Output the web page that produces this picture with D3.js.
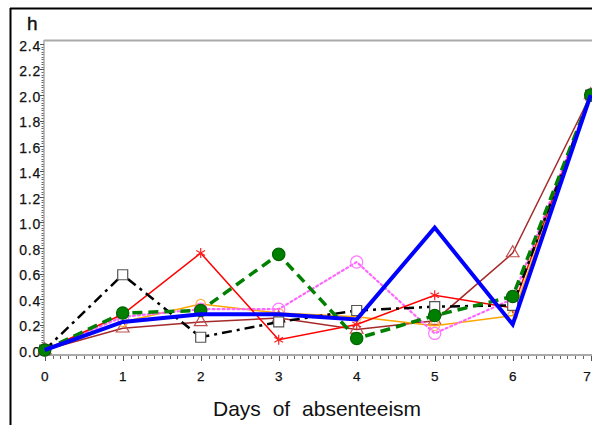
<!DOCTYPE html>
<html><head><meta charset="utf-8">
<script src="https://cdn.jsdelivr.net/npm/d3@7"></script>
<style>
html,body{margin:0;padding:0;background:#fff;}
svg{display:block;font-family:"Liberation Sans",Arial,Helvetica,sans-serif;}
</style></head>
<body><svg id="c" width="592" height="425"></svg>
<script>
const days = [0, 1, 2, 3, 4, 5, 6, 7];
const yTicks = [0.0, 0.2, 0.4, 0.6, 0.8, 1.0, 1.2, 1.4, 1.6, 1.8, 2.0, 2.2, 2.4];
const xTicks = [0, 1, 2, 3, 4, 5, 6, 7];
const seriesNames = ["brown", "orange", "magenta", "red", "black", "green", "blue"];
const brownValues   = [0, 0.17, 0.22, 0.25, 0.16, 0.23, 0.76, 2.0];
const orangeValues  = [0, 0.22, 0.36, 0.29, 0.26, 0.19, 0.27, 2.0];
const magentaValues = [0, 0.26, 0.32, 0.32, 0.69, 0.13, 0.40, 2.0];
const redValues     = [0, 0.28, 0.76, 0.08, 0.20, 0.43, 0.33, 2.0];
const blackValues   = [0, 0.59, 0.10, 0.22, 0.31, 0.34, 0.35, 2.0];
const greenValues   = [0, 0.29, 0.31, 0.75, 0.09, 0.27, 0.42, 2.0];
const blueValues    = [0, 0.22, 0.28, 0.28, 0.24, 0.96, 0.20, 2.0];
const yLabel = "h";
const xLabel = "Days of absenteeism";

const styles = {
  brown:   {values: brownValues,   color: "#a52a2a", width: 1.5, dash: null,       sym: d3.symbolTriangle, size: 70,  fill: "none", mstroke: "#c0504d"},
  orange:  {values: orangeValues,  color: "#ffa500", width: 1.5, dash: null,       sym: d3.symbolCircle,   size: 70,  fill: "none", mstroke: "#ffb347"},
  magenta: {values: magentaValues, color: "#ff66ff", width: 2.2, dash: "2,3",      sym: d3.symbolCircle,   size: 115, fill: "none", mstroke: "#ff77ff"},
  red:     {values: redValues,     color: "#ff0000", width: 1.5, dash: null,       sym: d3.symbolAsterisk, size: 70,  fill: "none", mstroke: "#ff2020"},
  black:   {values: blackValues,   color: "#000000", width: 2.5, dash: "10,5,3,5", sym: d3.symbolSquare,   size: 100, fill: "#fff", mstroke: "#555"},
  green:   {values: greenValues,   color: "#008000", width: 3.5, dash: "10,6",     sym: d3.symbolCircle,   size: 120, fill: "#008000", mstroke: "#006400"},
  blue:    {values: blueValues,    color: "#0000ff", width: 4,   dash: null,       sym: null,              size: 0,   fill: "none", mstroke: "none"}
};

const svg = d3.select("#c");
const x = d3.scaleLinear().domain([0, 7]).range([44.7, 590.7]);
const y = d3.scaleLinear().domain([0, 2.4]).range([350, 44]);

// outer black frame
svg.append("line").attr("x1", 10).attr("x2", 592).attr("y1", 8.5).attr("y2", 8.5).attr("stroke", "#000").attr("stroke-width", 2);
svg.append("line").attr("x1", 10.5).attr("x2", 10.5).attr("y1", 8).attr("y2", 425).attr("stroke", "#000").attr("stroke-width", 2);

// top frame line of plot
svg.append("line").attr("x1", 44).attr("x2", 592).attr("y1", 40.5).attr("y2", 40.5).attr("stroke", "#aaa").attr("stroke-width", 2);

// y axis
const yAxisX = 44;
svg.append("line").attr("x1", yAxisX).attr("x2", yAxisX).attr("y1", 40).attr("y2", 356).attr("stroke", "#aaa").attr("stroke-width", 1.5);
const yMinor = d3.range(0, 121).map(i => i * 0.02);
svg.append("g").selectAll("line").data(yMinor).join("line")
  .attr("x1", yAxisX - 2.5).attr("x2", yAxisX - 0.5)
  .attr("y1", d => Math.round(y(d)) + 0.5).attr("y2", d => Math.round(y(d)) + 0.5)
  .attr("stroke", "#666").attr("stroke-width", 1);
svg.append("g").selectAll("line").data(yTicks).join("line")
  .attr("x1", yAxisX - 4).attr("x2", yAxisX)
  .attr("y1", d => Math.round(y(d)) + 0.5).attr("y2", d => Math.round(y(d)) + 0.5)
  .attr("stroke", "#555").attr("stroke-width", 1);
svg.append("g").selectAll("text").data(yTicks).join("text")
  .attr("x", 41).attr("y", d => y(d) + 6.5)
  .attr("text-anchor", "end").attr("font-size", 14).attr("letter-spacing", 0.8).attr("fill", "#111")
  .attr("stroke", "#111").attr("stroke-width", 0.25)
  .text(d => d.toFixed(1));

// x axis
const xAxisY = 355;
svg.append("line").attr("x1", 44).attr("x2", 592).attr("y1", xAxisY).attr("y2", xAxisY).attr("stroke", "#aaa").attr("stroke-width", 2);
const xMinor = d3.range(0, 71).map(i => i * 0.1);
svg.append("g").selectAll("line").data(xMinor).join("line")
  .attr("x1", d => Math.round(x(d)) + 0.5).attr("x2", d => Math.round(x(d)) + 0.5)
  .attr("y1", xAxisY + 1).attr("y2", xAxisY + 4)
  .attr("stroke", "#666").attr("stroke-width", 1);
svg.append("g").selectAll("line").data(xTicks).join("line")
  .attr("x1", d => Math.round(x(d)) + 0.5).attr("x2", d => Math.round(x(d)) + 0.5)
  .attr("y1", xAxisY + 1).attr("y2", xAxisY + 6)
  .attr("stroke", "#555").attr("stroke-width", 1);
svg.append("g").selectAll("text").data(xTicks).join("text")
  .attr("x", d => Math.min(x(d), 587)).attr("y", 381)
  .attr("text-anchor", "middle").attr("font-size", 13.5).attr("fill", "#111")
  .attr("stroke", "#111").attr("stroke-width", 0.25)
  .text(d => d);

// labels
svg.append("text").attr("x", 27).attr("y", 30).attr("font-size", 19).attr("fill", "#111")
  .attr("stroke", "#111").attr("stroke-width", 0.4).text(yLabel);
svg.append("text").attr("x", 213).attr("y", 416).attr("font-size", 21).attr("word-spacing", 6).attr("fill", "#111").text(xLabel);

// series
const line = d3.line().x((d, i) => x(days[i])).y(d => y(d));
const gLines = svg.append("g");
seriesNames.forEach(name => {
  const s = styles[name];
  gLines.append("path").datum(s.values)
    .attr("d", line).attr("fill", "none")
    .attr("stroke", s.color).attr("stroke-width", s.width)
    .attr("stroke-dasharray", s.dash)
    .attr("stroke-linejoin", "miter").attr("stroke-linecap", s.dash === "2,3" ? "round" : "butt");
  if (s.sym) {
    gLines.append("g").selectAll("path").data(s.values).join("path")
      .attr("transform", (d, i) => `translate(${x(days[i])},${y(d)})`)
      .attr("d", d3.symbol().type(s.sym).size(s.size))
      .attr("fill", s.fill).attr("stroke", s.mstroke).attr("stroke-width", 1.2);
  }
});
</script></body></html>
